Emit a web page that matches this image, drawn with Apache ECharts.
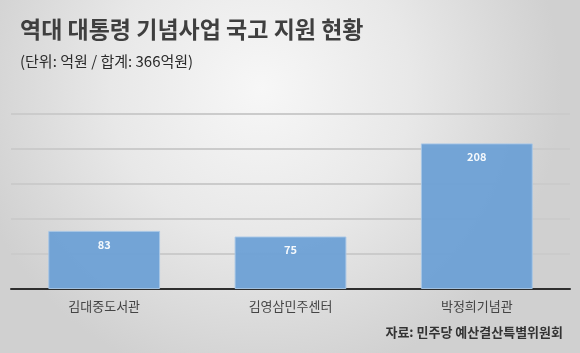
<!DOCTYPE html>
<html><head><meta charset="utf-8">
<script src="https://cdn.jsdelivr.net/npm/echarts@6/dist/echarts.min.js"></script>
<style>html,body{margin:0;padding:0;}#c{width:580px;height:353px;}</style>
</head><body><div id="c"></div>
<script>
const categories = ['김대중도서관', '김영삼민주센터', '박정희기념관'];
const values = [83, 75, 208];
const titleText = '역대 대통령 기념사업 국고 지원 현황';
const subtitleText = '(단위: 억원 / 합계: 366억원)';
const sourceText = '자료: 민주당 예산결산특별위원회';

const font = '"Noto Sans CJK KR", "Noto Sans", sans-serif';
const chart = echarts.init(document.getElementById('c'));
chart.setOption({
  animation: false,
  backgroundColor: {
    type: 'radial', x: 0.45, y: 0.25, r: 0.85,
    colorStops: [
      {offset: 0, color: '#f7f7f7'},
      {offset: 0.5, color: '#e8e8e8'},
      {offset: 1, color: '#d0d0d0'}
    ]
  },
  title: [
    {text: titleText, left: 15, top: 13,
     textStyle: {fontFamily: font, fontSize: 23, fontWeight: 'bold', color: '#3f3f3f'}},
    {text: subtitleText, left: 15, top: 49,
     textStyle: {fontFamily: font, fontSize: 15, fontWeight: 'normal', color: '#2b2b2b'}},
    {text: sourceText, right: 12, top: 321,
     textStyle: {fontFamily: font, fontSize: 13, fontWeight: 'bold', color: '#333'}}
  ],
  grid: {left: 11, right: 10, top: 114, bottom: 64, containLabel: false},
  xAxis: {
    type: 'category', data: categories,
    axisLine: {lineStyle: {color: '#2e2e2e', width: 2}},
    axisTick: {show: false},
    axisLabel: {fontFamily: font, fontSize: 13, color: '#444', margin: 11}
  },
  yAxis: {
    type: 'value', min: 0, max: 250, interval: 50,
    axisLabel: {show: false}, axisLine: {show: false}, axisTick: {show: false},
    splitLine: {lineStyle: {color: '#cbcbcb', width: 2}}
  },
  series: [{
    type: 'bar', data: values, barWidth: '60%',
    itemStyle: {color: '#6a9fd5', borderColor: '#a8c7e6', borderWidth: 1, opacity: 0.93},
    label: {show: true, position: 'insideTop', distance: 8,
            fontFamily: font, fontSize: 11, fontWeight: 'bold', color: '#ffffff'}
  }]
});
</script></body></html>
